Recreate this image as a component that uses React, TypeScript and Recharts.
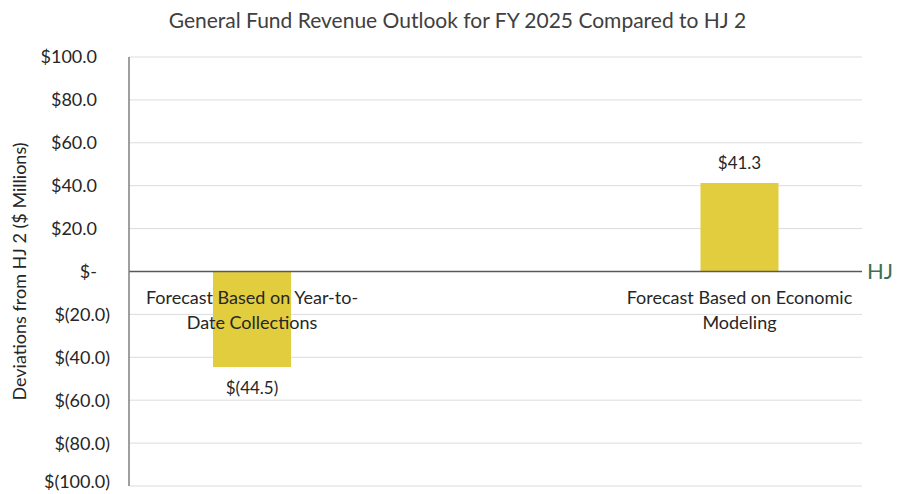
import React from 'react';
import { BarChart, Bar, XAxis, YAxis, CartesianGrid, ReferenceLine, LabelList } from 'recharts';

const categories = [
  'Forecast Based on Year-to-Date Collections',
  'Forecast Based on Economic Modeling',
];
const deviations = [-44.5, 41.3];
const yTicks = [-100, -80, -60, -40, -20, 0, 20, 40, 60, 80, 100];
const chartTitle = 'General Fund Revenue Outlook for FY 2025 Compared to HJ 2';
const yAxisTitle = 'Deviations from HJ 2 ($ Millions)';
const baselineLabel = 'HJ';

const data = categories.map((name, i) => ({ name, value: deviations[i] }));

const FONT = 'Lato, "Open Sans", sans-serif';
const TEXT = '#262626';

function money(v: number) {
  if (v === 0) return '$-';
  const s = Math.abs(v).toFixed(1);
  return v < 0 ? `$(${s})` : `$${s}`;
}

// break long category names like Excel does (spaces and after hyphens)
function wrap(text: string, max = 26) {
  const tokens: { t: string; sep: string }[] = [];
  text.split(' ').forEach((word, wi) => {
    word.split(/(?<=-)/).forEach((piece, pi) =>
      tokens.push({ t: piece, sep: wi > 0 && pi === 0 ? ' ' : '' })
    );
  });
  const lines: string[] = [];
  let cur = '';
  tokens.forEach(({ t, sep }) => {
    if (cur && (cur + sep + t).length > max) {
      lines.push(cur);
      cur = t;
    } else {
      cur = cur ? cur + sep + t : t;
    }
  });
  if (cur) lines.push(cur);
  return lines;
}

function barEdges(y: number, height: number) {
  return { top: Math.min(y, y + height), bottom: Math.max(y, y + height) };
}

const YTick = (props: any) => {
  const { x, y, payload, index, visibleTicksCount } = props;
  const v = payload.value;
  // lowest label sits on the bottom edge; nudge it up so it stays inside the frame
  const lift = v === yTicks[0] ? -4 : 0;
  return (
    <text x={x - (v < 0 ? 0 : 13)} y={y + lift} dy="0.36em" textAnchor="end" fontFamily={FONT} fontSize={18} fill={TEXT}>
      {money(v)}
    </text>
  );
};

const CategoryLabel = (props: any) => {
  const { x, y, width, height, value } = props;
  const row = data.find((d) => d.name === value);
  const { top, bottom } = barEdges(Number(y), Number(height));
  const zeroY = row && row.value >= 0 ? bottom : top;
  const cx = Number(x) + Number(width) / 2;
  return (
    <text x={cx} y={zeroY + 32} textAnchor="middle" fontFamily={FONT} fontSize={18} fill={TEXT}>
      {wrap(String(value)).map((line, i) => (
        <tspan key={i} x={cx} dy={i === 0 ? 0 : 25}>
          {line}
        </tspan>
      ))}
    </text>
  );
};

const ValueLabel = (props: any) => {
  const { x, y, width, height, value } = props;
  const { top, bottom } = barEdges(Number(y), Number(height));
  const cx = Number(x) + Number(width) / 2;
  const ty = value >= 0 ? top - 20 : bottom + 21;
  return (
    <text x={cx} y={ty} dy="0.36em" textAnchor="middle" fontFamily={FONT} fontSize={17} fill={TEXT}>
      {money(value)}
    </text>
  );
};

export default function App() {
  return (
    <div style={{ position: 'absolute', left: 0, top: 0, width: 901, height: 494, background: '#fff' }}>
      <div
        style={{
          position: 'absolute',
          top: 7,
          left: 7,
          width: 901,
          textAlign: 'center',
          fontFamily: FONT,
          fontSize: 21,
          lineHeight: '26px',
          color: '#404040',
        }}
      >
        {chartTitle}
      </div>
      <BarChart
        width={901}
        height={494}
        data={data}
        margin={{ top: 57, right: 39, bottom: 8, left: 0 }}
      >
        <CartesianGrid vertical={false} stroke="#dcdcdc" />
        <XAxis dataKey="name" hide padding={{ left: -121, right: -121 }} />
        <YAxis
          width={129}
          domain={[-100, 100]}
          ticks={yTicks}
          interval={0}
          tickLine={false}
          tickSize={0}
          tickMargin={19}
          tick={<YTick />}
          axisLine={{ stroke: '#7f7f7f', strokeWidth: 1.5 }}
          label={{
            value: yAxisTitle,
            angle: -90,
            position: 'insideLeft',
            offset: 20,
            style: { textAnchor: 'middle', fontFamily: FONT, fontSize: 18, fill: TEXT },
          }}
        />
        <Bar dataKey="value" fill="#E2CD3E" barSize={78} isAnimationActive={false}>
          <LabelList dataKey="value" content={ValueLabel} />
          <LabelList dataKey="name" content={CategoryLabel} />
        </Bar>
        <ReferenceLine
          y={0}
          stroke="#595959"
          strokeWidth={1.5}
          label={{ value: baselineLabel, position: 'right', offset: 5, fill: '#3f6f52', fontSize: 22, fontFamily: FONT }}
        />
      </BarChart>
    </div>
  );
}
